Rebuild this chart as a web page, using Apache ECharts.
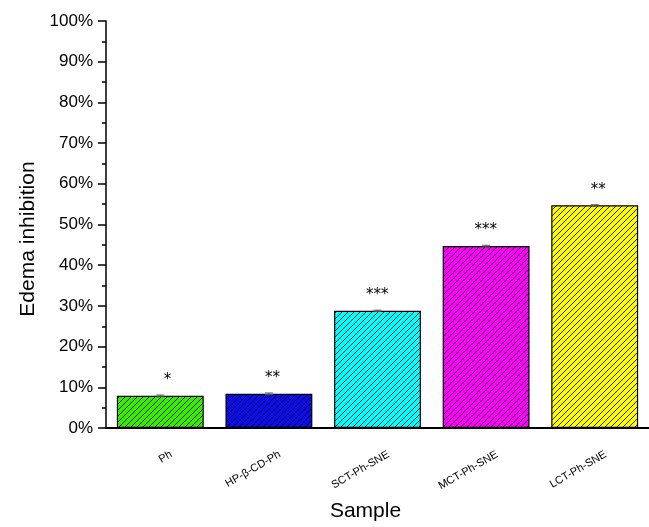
<!DOCTYPE html>
<html>
<head>
<meta charset="utf-8">
<script src="https://cdn.jsdelivr.net/npm/echarts@6/dist/echarts.min.js"></script>
<style>
  html, body { margin: 0; padding: 0; background: #fff; }
  #chart { width: 649px; height: 527px; }
</style>
</head>
<body>
<div id="chart"></div>
<script>
// Samples and their measured edema inhibition (%)
const categories = ['Ph', 'HP-β-CD-Ph', 'SCT-Ph-SNE', 'MCT-Ph-SNE', 'LCT-Ph-SNE'];
const inhibition = [7.9, 8.4, 28.8, 44.7, 54.7];
const errors = [0.2, 0.2, 0.15, 0.2, 0.15];
const significance = ['*', '**', '***', '***', '**'];
const barColors = ['#33ee00', '#0c0cf0', '#00ffff', '#ff00ff', '#ffff00'];
const yTicks = { min: 0, max: 100, step: 10 };

// Diagonal hatch fill: solid colour with thin dark "///" lines
function hatch(color) {
  const s = 6;
  const c = document.createElement('canvas');
  c.width = s; c.height = s;
  const g = c.getContext('2d');
  g.fillStyle = color;
  g.fillRect(0, 0, s, s);
  g.strokeStyle = 'rgba(0,0,0,0.85)';
  g.lineWidth = 1;
  g.beginPath();
  g.moveTo(-1, s + 1); g.lineTo(s + 1, -1);
  g.moveTo(-1, 1); g.lineTo(1, -1);
  g.moveTo(s - 1, s + 1); g.lineTo(s + 1, s - 1);
  g.stroke();
  return { image: c, repeat: 'repeat' };
}

const chart = echarts.init(document.getElementById('chart'), null, { renderer: 'canvas' });
const font = 'Arial, "Liberation Sans", sans-serif';

chart.setOption({
  backgroundColor: '#ffffff',
  animation: false,
  grid: { left: 106, right: -2, top: 21, bottom: 95, containLabel: false },
  xAxis: [
    {
      type: 'category',
      data: categories,
      name: 'Sample',
      nameLocation: 'middle',
      nameGap: 73,
      nameTextStyle: { fontFamily: font, fontSize: 21, color: '#000', padding: [0, 24, 0, 0] },
      axisLine: { lineStyle: { color: '#000', width: 2 } },
      axisTick: { alignWithLabel: true, length: 8, lineStyle: { color: '#000', width: 1.5 } },
      axisLabel: {
        interval: 0, rotate: 30, margin: 32, fontFamily: font, fontSize: 11, color: '#000',
        padding: [0, -12.7, 0, 0]
      }
    },
    {
      // short ticks on the category boundaries
      type: 'category',
      data: categories,
      position: 'bottom',
      axisLine: { show: false },
      axisTick: { length: 4, lineStyle: { color: '#000', width: 1.5 } },
      axisLabel: { show: false }
    }
  ],
  yAxis: {
    type: 'value',
    min: yTicks.min,
    max: yTicks.max,
    interval: yTicks.step,
    name: 'Edema inhibition',
    nameLocation: 'middle',
    nameGap: 67,
    nameTextStyle: { fontFamily: font, fontSize: 21, color: '#000', padding: [0, 29, 0, 0] },
    axisLine: { show: true, lineStyle: { color: '#000', width: 1.5 } },
    axisTick: { show: true, length: 8, lineStyle: { color: '#000', width: 1.5 } },
    minorTick: { show: true, splitNumber: 2, length: 4, lineStyle: { color: '#000', width: 1.5 } },
    splitLine: { show: false },
    axisLabel: { formatter: '{value}%', fontFamily: font, fontSize: 17, color: '#000', margin: 13 }
  },
  series: [
    {
      type: 'bar',
      xAxisIndex: 0,
      barWidth: '80%',
      data: inhibition.map((v, i) => ({
        value: v,
        itemStyle: { color: hatch(barColors[i]), borderColor: '#000', borderWidth: 1.2 }
      })),
      label: {
        show: true,
        position: 'top',
        distance: 8,
        align: 'right',
        offset: [11, 0],
        formatter: p => significance[p.dataIndex],
        fontFamily: '"DejaVu Sans", sans-serif',
        fontSize: 15,
        color: '#000'
      }
    },
    {
      // error bars
      type: 'custom',
      xAxisIndex: 0,
      data: inhibition.map((v, i) => [i, v, errors[i]]),
      z: 5,
      renderItem: (params, api) => {
        const x = api.value(0), y = api.value(1), e = api.value(2);
        const hi = api.coord([x, y + e]);
        const lo = api.coord([x, y - e]);
        const w = 4;
        const st = { stroke: '#555', lineWidth: 1 };
        return {
          type: 'group',
          children: [
            { type: 'line', shape: { x1: hi[0], y1: hi[1], x2: lo[0], y2: lo[1] }, style: st },
            { type: 'line', shape: { x1: hi[0] - w, y1: hi[1], x2: hi[0] + w, y2: hi[1] }, style: st },
            { type: 'line', shape: { x1: lo[0] - w, y1: lo[1], x2: lo[0] + w, y2: lo[1] }, style: st }
          ]
        };
      }
    }
  ]
});
</script>
</body>
</html>
